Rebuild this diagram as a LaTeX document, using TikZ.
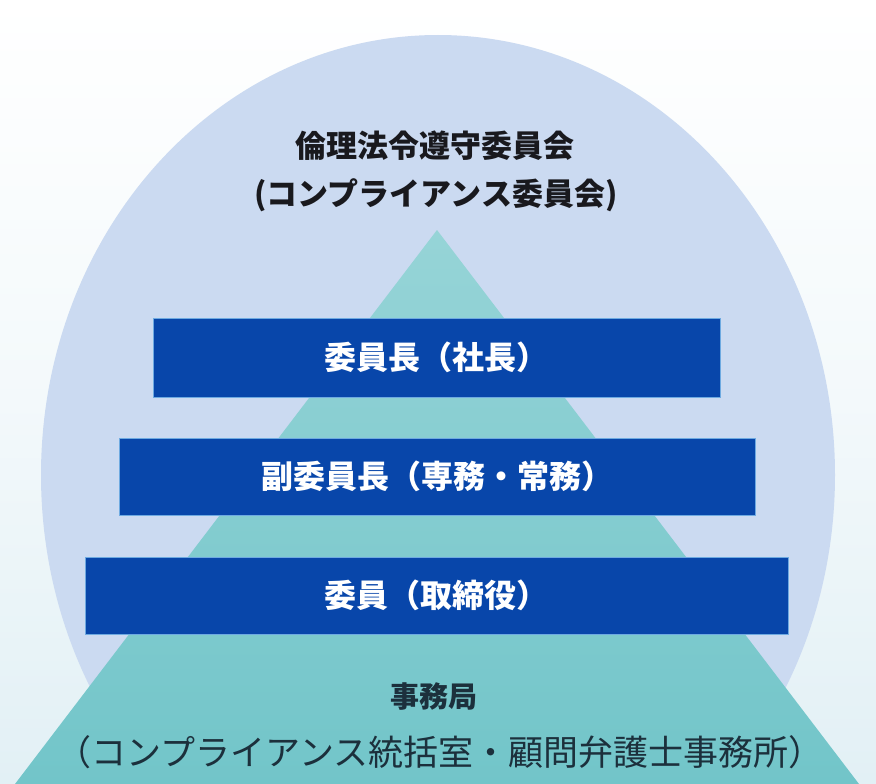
\documentclass[tikz,border=0pt]{standalone}
\usepackage{fontspec}
\newfontfamily\jp{Noto Sans CJK JP}
\definecolor{bgbot}{RGB}{226,240,245}
\definecolor{lav}{RGB}{203,218,241}
\definecolor{teal1}{RGB}{150,212,215}
\definecolor{teal2}{RGB}{114,197,201}
\definecolor{barblue}{RGB}{8,70,170}
\definecolor{baredge}{RGB}{110,170,225}
\definecolor{titlecol}{RGB}{25,25,30}
\definecolor{officecol}{RGB}{28,48,60}
\tikzset{
  bar/.style={rectangle, fill=barblue, draw=baredge, line width=1pt, inner sep=0pt,
    text=white, font=\jp\bfseries\fontsize{32}{32}\selectfont,
    text height=25pt, text depth=0.6pt},
  title/.style={text=titlecol, font=\jp\bfseries\fontsize{31}{31}\selectfont, anchor=base, inner sep=0pt},
  office/.style={text=officecol, anchor=base, inner sep=0pt}
}
\begin{document}
\begin{tikzpicture}[x=1pt,y=-1pt]
\useasboundingbox (0,0) rectangle (876,784);
\clip (0,0) rectangle (876,784);
\shade[top color=white, bottom color=bgbot, middle color=white!60!bgbot] (0,0) rectangle (876,784);
\fill[lav] (438,475) ellipse [x radius=397, y radius=440];
\shade[top color=teal1, bottom color=teal2] (437,230) -- (859,784) -- (15,784) -- cycle;
\node[title] (t1) at (435,157) {倫理法令遵守委員会};
\node[title] (t2) at (436,205) {(コンプライアンス委員会)};
\node[bar, minimum width=567pt, minimum height=79pt] (b1) at (436.5,357.5) {委員長（社長）};
\node[bar, minimum width=636pt, minimum height=77pt] (b2) at (437,476.5) {副委員長（専務・常務）};
\node[bar, minimum width=703pt, minimum height=77pt] (b3) at (436.5,595.5) {委員（取締役）};
\node[office, font=\jp\bfseries\fontsize{29}{29}\selectfont] (o1) at (434,707) {事務局};
\node[office, font=\jp\fontsize{35}{35}\selectfont] (o2) at (440,765) {（コンプライアンス統括室・顧問弁護士事務所）};
\end{tikzpicture}
\end{document}
